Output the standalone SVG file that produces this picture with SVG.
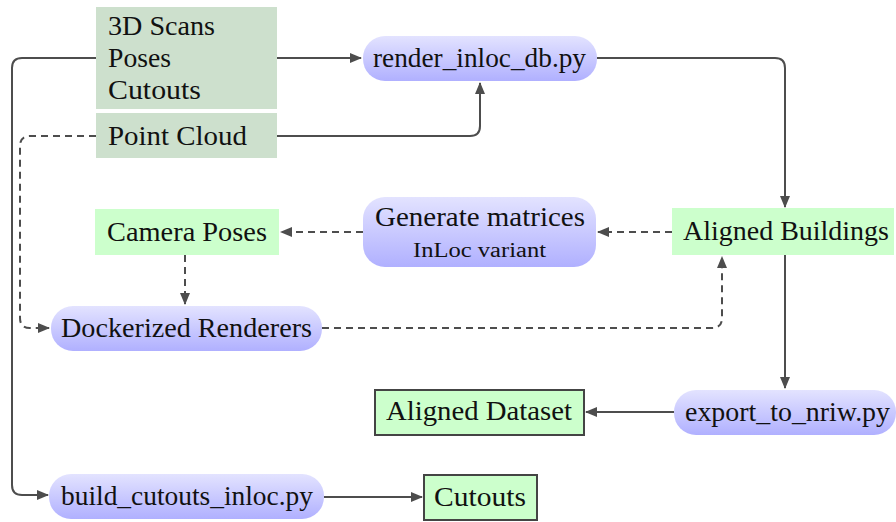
<svg xmlns="http://www.w3.org/2000/svg" width="896" height="522" viewBox="0 0 896 522">
  <defs>
    <linearGradient id="proc" x1="0" y1="0" x2="0" y2="1">
      <stop offset="0" stop-color="#e3e3ff"/>
      <stop offset="1" stop-color="#b0b0ff"/>
    </linearGradient>
    <marker id="arr" viewBox="0 0 12 10" refX="11" refY="5" markerWidth="12" markerHeight="10" markerUnits="userSpaceOnUse" orient="auto">
      <path d="M0,0 L12,5 L0,10 Z" fill="#4d4d4d"/>
    </marker>
  </defs>
  <style>
    svg text { font-family: 'Liberation Serif', 'Times New Roman', serif; font-size: 27px; fill: #111; }
    svg text.small { font-size: 20px; }
    .src { fill: #cde0cd; }
    .data { fill: #ccffcc; }
    .out { fill: #ccffcc; stroke: #444; stroke-width: 2; }
    .proc { fill: url(#proc); }
    .edge { fill: none; stroke: #4d4d4d; stroke-width: 2; }
    .dash { stroke-dasharray: 7 5; }
  </style>

  <!-- connectors -->
  <g id="edges">
    <path class="edge" d="M277,58 H361" marker-end="url(#arr)"/>
    <path class="edge" d="M277,136 H470 Q480,136 480,126 V83" marker-end="url(#arr)"/>
    <path class="edge" d="M597,58 H775 Q785,58 785,68 V207" marker-end="url(#arr)"/>
    <path class="edge dash" d="M672,232 H598" marker-end="url(#arr)"/>
    <path class="edge dash" d="M363,232 H281" marker-end="url(#arr)"/>
    <path class="edge dash" d="M185,255 V304" marker-end="url(#arr)"/>
    <path class="edge dash" d="M322,328 H712 Q722,328 722,318 V257" marker-end="url(#arr)"/>
    <path class="edge dash" d="M96,136 H30 Q20,136 20,146 V318 Q20,328 30,328 H49" marker-end="url(#arr)"/>
    <path class="edge" d="M96,58 H22 Q12,58 12,68 V485 Q12,495 22,495 H48" marker-end="url(#arr)"/>
    <path class="edge" d="M324,497 H422" marker-end="url(#arr)"/>
    <path class="edge" d="M785,255 V388" marker-end="url(#arr)"/>
    <path class="edge" d="M674,412 H586" marker-end="url(#arr)"/>
  </g>

  <g id="sources">
    <rect class="src" x="96" y="7" width="181" height="102"/>
    <text x="108" y="35" textLength="107" lengthAdjust="spacingAndGlyphs">3D Scans</text>
    <text x="108" y="67" textLength="63" lengthAdjust="spacingAndGlyphs">Poses</text>
    <text x="108" y="99" textLength="93" lengthAdjust="spacingAndGlyphs">Cutouts</text>
  </g>
  <g id="point-cloud">
    <rect class="src" x="96" y="113" width="181" height="45"/>
    <text x="108" y="145" textLength="139" lengthAdjust="spacingAndGlyphs">Point Cloud</text>
  </g>
  <g id="render-inloc-db">
    <rect class="proc" x="363" y="36" width="234" height="45" rx="22"/>
    <text x="373" y="67" textLength="213" lengthAdjust="spacingAndGlyphs">render_inloc_db.py</text>
  </g>
  <g id="aligned-buildings">
    <rect class="data" x="672" y="208" width="222" height="47"/>
    <text x="683" y="240" textLength="206" lengthAdjust="spacingAndGlyphs">Aligned Buildings</text>
  </g>
  <g id="generate-matrices">
    <rect class="proc" x="363" y="197" width="233" height="70" rx="22"/>
    <text x="375" y="226" textLength="210" lengthAdjust="spacingAndGlyphs">Generate matrices</text>
    <text class="small" x="413" y="257" textLength="133" lengthAdjust="spacingAndGlyphs">InLoc variant</text>
  </g>
  <g id="camera-poses">
    <rect class="data" x="95" y="209" width="184" height="46"/>
    <text x="107" y="241" textLength="160" lengthAdjust="spacingAndGlyphs">Camera Poses</text>
  </g>
  <g id="dockerized-renderers">
    <rect class="proc" x="51" y="306" width="271" height="45" rx="22"/>
    <text x="61" y="337" textLength="251" lengthAdjust="spacingAndGlyphs">Dockerized Renderers</text>
  </g>
  <g id="export-to-nriw">
    <rect class="proc" x="674" y="390" width="222" height="45" rx="22"/>
    <text x="685" y="421" textLength="205" lengthAdjust="spacingAndGlyphs">export_to_nriw.py</text>
  </g>
  <g id="aligned-dataset">
    <rect class="out" x="375" y="390" width="209" height="45"/>
    <text x="386" y="420" textLength="186" lengthAdjust="spacingAndGlyphs">Aligned Dataset</text>
  </g>
  <g id="build-cutouts-inloc">
    <rect class="proc" x="49" y="474" width="275" height="45" rx="22"/>
    <text x="61" y="505" textLength="252" lengthAdjust="spacingAndGlyphs">build_cutouts_inloc.py</text>
  </g>
  <g id="cutouts">
    <rect class="out" x="424" y="475" width="113" height="45"/>
    <text x="434" y="506" textLength="92" lengthAdjust="spacingAndGlyphs">Cutouts</text>
  </g>
</svg>
